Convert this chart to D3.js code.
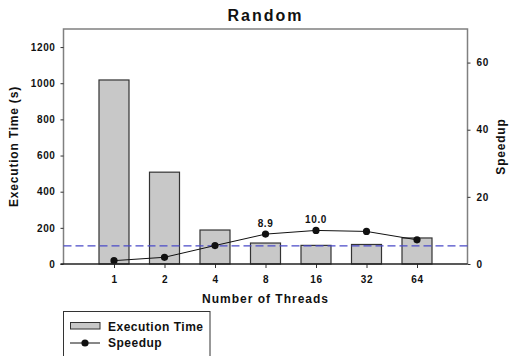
<!DOCTYPE html>
<meta charset="utf-8">
<title>Random</title>
<style>
body { margin:0; background:#fff; }
text { font-family: Arial, "Liberation Sans", sans-serif; font-weight: bold; fill:#111; }
.tick text { font-size: 10px; letter-spacing: 0.6px; }
</style>
<svg width="509" height="356"></svg>
<script src="https://d3js.org/d3.v7.min.js"></script>
<script>
var threads = ["1","2","4","8","16","32","64"];
var execTime = [1018, 508, 188, 116, 103, 108, 144];
var speedup = [1.0, 2.0, 5.5, 8.9, 10.0, 9.7, 7.2];
var labelled = [3, 4];
var refTime = 100;
var leftTicks = [0,200,400,600,800,1000,1200];
var rightTicks = [0,20,40,60];

var svg = d3.select("svg"),
    m = {left:63.5, right:467.5, top:29, bottom:264};

var x = d3.scaleLinear().domain([0, threads.length + 1]).range([m.left, m.right]);
var yL = d3.scaleLinear().domain([0,1300]).range([m.bottom, m.top]);
var yR = d3.scaleLinear().domain([0,70]).range([m.bottom, m.top]);
var bw = 30;

// frame (top + sides)
svg.append("path")
  .attr("d","M"+m.left+","+m.bottom+"V"+m.top+"H"+m.right+"V"+m.bottom)
  .attr("fill","none").attr("stroke","#808080").attr("stroke-width",1.5);

// bars
svg.selectAll(".bar").data(execTime).enter().append("rect")
  .attr("x", function(d,i){ return x(i+1) - bw/2; })
  .attr("y", function(d){ return yL(d); })
  .attr("width", bw)
  .attr("height", function(d){ return yL(0) - yL(d); })
  .attr("fill","#c8c8c8").attr("stroke","#333").attr("stroke-width",1.2);

// dashed reference line
svg.append("line")
  .attr("x1", m.left).attr("x2", m.right)
  .attr("y1", yL(refTime)).attr("y2", yL(refTime))
  .attr("stroke","#4a4ac8").attr("stroke-width",1.2).attr("stroke-dasharray","8,4");

// speedup line
var line = d3.line().x(function(d,i){ return x(i+1); }).y(function(d){ return yR(d); });
svg.append("path").datum(speedup).attr("d", line)
  .attr("fill","none").attr("stroke","#111").attr("stroke-width",1);
svg.selectAll(".dot").data(speedup).enter().append("circle")
  .attr("cx", function(d,i){ return x(i+1); })
  .attr("cy", function(d){ return yR(d); })
  .attr("r", 3.6).attr("fill","#111");
svg.selectAll(".lbl").data(labelled).enter().append("text")
  .attr("x", function(i){ return x(i+1); })
  .attr("y", function(i){ return yR(speedup[i]) - 7; })
  .attr("text-anchor","middle").attr("font-size",10).attr("letter-spacing",0.6)
  .text(function(i){ return speedup[i].toFixed(1); });

// left axis
var gl = svg.append("g").attr("transform","translate("+m.left+",0)")
  .call(d3.axisLeft(yL).tickValues(leftTicks).tickFormat(d3.format("d")).tickSize(3).tickPadding(5));
gl.select(".domain").remove();
gl.selectAll(".tick line").attr("stroke","#333");

// right axis
var gr = svg.append("g").attr("transform","translate("+m.right+",0)")
  .call(d3.axisRight(yR).tickValues(rightTicks).tickSize(3).tickPadding(6));
gr.select(".domain").remove();
gr.selectAll(".tick line").attr("stroke","#333");

// bottom axis
var gb = svg.append("g").attr("transform","translate(0,"+m.bottom+")")
  .call(d3.axisBottom(x).tickValues(d3.range(1, threads.length+1))
    .tickFormat(function(d){ return threads[d-1]; }).tickSize(4).tickPadding(8));
gb.select(".domain").remove();
gb.selectAll(".tick line").attr("stroke","#333");
svg.append("line").attr("x1", m.left-3).attr("x2", m.right)
  .attr("y1", m.bottom).attr("y2", m.bottom).attr("stroke","#222").attr("stroke-width",1.5);

// titles
svg.append("text").attr("x",(m.left+m.right)/2).attr("y",21)
  .attr("text-anchor","middle").attr("font-size",16).attr("letter-spacing",2).text("Random");
svg.append("text").attr("x",(m.left+m.right)/2).attr("y",303)
  .attr("text-anchor","middle").attr("font-size",12).attr("letter-spacing",1).text("Number of Threads");
svg.append("text").attr("transform","translate(18,"+((m.top+m.bottom)/2)+") rotate(-90)")
  .attr("text-anchor","middle").attr("font-size",12).attr("letter-spacing",0.8).text("Execution Time (s)");
svg.append("text").attr("transform","translate(505,"+((m.top+m.bottom)/2)+") rotate(-90)")
  .attr("text-anchor","middle").attr("font-size",12).attr("letter-spacing",0.8).text("Speedup");

// legend
var lg = svg.append("g");
lg.append("rect").attr("x",63.5).attr("y",311.5).attr("width",146.5).attr("height",60)
  .attr("fill","#fff").attr("stroke","#333").attr("stroke-width",1);
lg.append("rect").attr("x",70.5).attr("y",322.5).attr("width",29.5).attr("height",6.5)
  .attr("fill","#c8c8c8").attr("stroke","#333").attr("stroke-width",1);
lg.append("text").attr("x",108).attr("y",330.5).attr("font-size",12).attr("letter-spacing",0.5).text("Execution Time");
lg.append("line").attr("x1",70).attr("x2",100).attr("y1",343).attr("y2",343).attr("stroke","#111");
lg.append("circle").attr("cx",85).attr("cy",343).attr("r",3.6).attr("fill","#111");
lg.append("text").attr("x",108).attr("y",347).attr("font-size",12).attr("letter-spacing",0.5).text("Speedup");
</script>
